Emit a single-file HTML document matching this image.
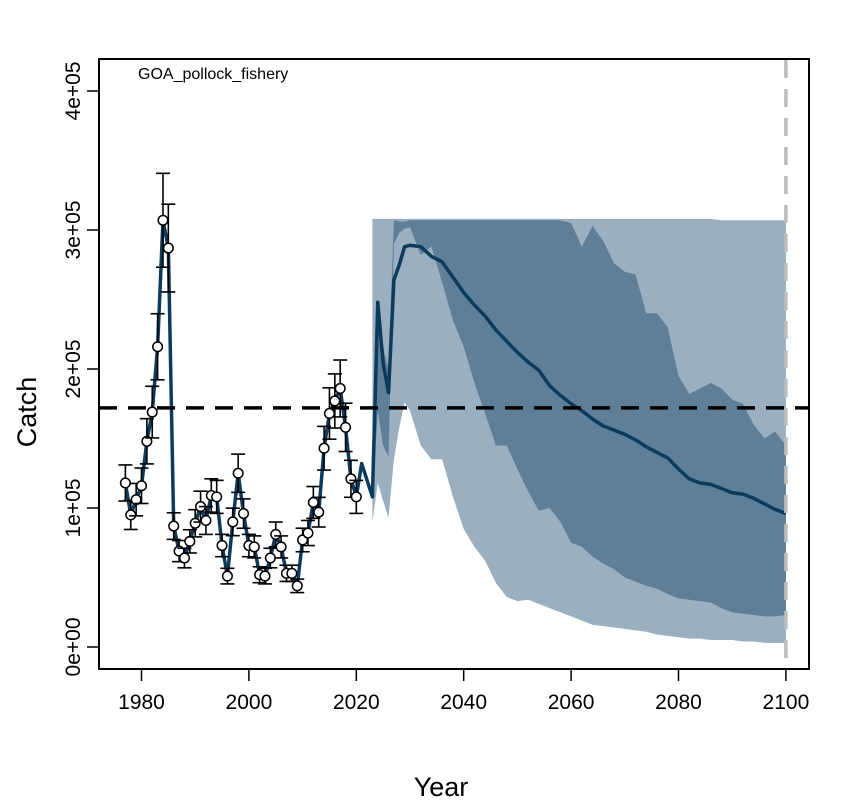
<!DOCTYPE html>
<html><head><meta charset="utf-8"><style>
html,body{margin:0;padding:0;background:#fff;}
svg{display:block;font-family:"Liberation Sans",Arial,sans-serif;}
</style></head><body>
<svg id="chart" width="860" height="800" viewBox="0 0 860 800" xmlns="http://www.w3.org/2000/svg">
<g id="bands"></g>
<g id="marks"></g>
<rect x="99" y="59" width="710" height="610" fill="none" stroke="#000" stroke-width="2"/>
<g id="axes"></g>
<text x="138" y="79" font-size="16">GOA_pollock_fishery</text>
<text x="441" y="796" font-size="27" text-anchor="middle">Year</text>
<text transform="translate(36,412) rotate(-90)" font-size="27" text-anchor="middle">Catch</text>
</svg>
<script>
const obsYears=[1977,1978,1979,1980,1981,1982,1983,1984,1985,1986,1987,1988,1989,1990,1991,1992,1993,1994,1995,1996,1997,1998,1999,2000,2001,2002,2003,2004,2005,2006,2007,2008,2009,2010,2011,2012,2013,2014,2015,2016,2017,2018,2019,2020];
const obsCatch=[118,95,106,116,148,169,216,307,287,87,69,64,76,89,101,91,109,108,73,51,90,125,96,73,72,52,51,64,81,72,53,53,44,77,82,104,97,143,168,177,186,158,121,108];
const projYears=[2020,2021,2022,2023,2024,2025,2026,2027,2028,2029,2030,2032,2034,2036,2038,2040,2042,2044,2046,2048,2050,2052,2054,2056,2058,2060,2062,2064,2066,2068,2070,2072,2074,2076,2078,2080,2082,2084,2086,2088,2090,2092,2094,2096,2098,2100];
const projMedian=[108,132,120,108,248,204,183,264,275,288,289,288,281,277,266,255,246,238,228,220,212,205,199,188,181,175,170,164,159,156,153,149,144,140,136,128,121,118,117,114,111,110,107,103,99,96];
const bandYears=[2023,2024,2025,2026,2027,2028,2029,2030,2032,2034,2036,2038,2040,2042,2044,2046,2048,2050,2052,2054,2056,2058,2060,2062,2064,2066,2068,2070,2072,2074,2076,2078,2080,2082,2084,2086,2088,2090,2092,2094,2096,2098,2100];
const outerHi=[308,308,308,308,308,308,308,308,308,308,308,308,308,308,308,308,308,308,308,308,308,308,308,308,308,308,308,308,308,308,308,308,308,308,308,308,307,307,307,307,307,307,307];
const outerLo=[90,118,105,93,135,158,176,170,145,135,135,108,85,72,62,46,36,33,34,31,28,25,22,19,16,15,14,13,12,11,9,8,7,6,6,5,5,5,4,4,3,3,3];
const innerHi=[110,240,215,200,307,306,306,307,307,307,307,307,307,307,307,307,307,307,307,307,307,307,305,288,303,292,276,270,268,240,240,230,195,182,186,190,186,178,175,160,150,155,145];
const innerLo=[105,170,145,137,290,298,301,302,282,288,262,235,216,190,168,145,145,128,112,98,100,90,75,72,65,60,56,50,47,44,42,38,35,34,33,32,28,25,24,23,22,22,23];
const refCatch=172;
const xTicks=[1980,2000,2020,2040,2060,2080,2100];
const yTicks=[0,100,200,300,400];
const yTickLabels=["0e+00","1e+05","2e+05","3e+05","4e+05"];

const NS="http://www.w3.org/2000/svg";
function X(yr){return 141.5+(yr-1980)*5.37;}
function Y(v){return 647-v*1.39;}
function mk(tag,attrs,parent){const e=document.createElementNS(NS,tag);for(const k in attrs)e.setAttribute(k,attrs[k]);parent.appendChild(e);return e;}
const bands=document.getElementById('bands'),marks=document.getElementById('marks'),axes=document.getElementById('axes');

function bandPath(hi,lo){
  let d='';
  bandYears.forEach((y,i)=>{d+=(i?'L':'M')+X(y)+' '+Y(hi[i]);});
  for(let i=bandYears.length-1;i>=0;i--)d+='L'+X(bandYears[i])+' '+Y(lo[i]);
  return d+'Z';
}
const ob=mk('path',{d:bandPath(outerHi,outerLo),fill:'#9aafbf'},bands);


const ib=mk('path',{d:bandPath(innerHi,innerLo),fill:'#5f7f99'},bands);



let d='';
obsYears.forEach((y,i)=>{d+=(i?'L':'M')+X(y)+' '+Y(obsCatch[i]);});
projYears.forEach((y,i)=>{if(i>0)d+='L'+X(y)+' '+Y(projMedian[i]);});
const ln=mk('path',{d:d,fill:'none',stroke:'#0d3b5e','stroke-width':3.5,'stroke-linejoin':'round'},marks);



const rl=mk('line',{x1:99,x2:809,y1:Y(refCatch),y2:Y(refCatch),stroke:'#000','stroke-width':3.5,'stroke-dasharray':'18,11'},marks);


const vl=mk('line',{x1:X(2100),x2:X(2100),y1:60,y2:668,stroke:'#bbbbbb','stroke-width':3.5,'stroke-dasharray':'18,11'},marks);



obsYears.forEach((y,i)=>{
  const g=mk('g',{},marks);
  
  
  const v=obsCatch[i],x=X(y),hi=Y(v*1.11),lo=Y(v*0.89);
  mk('line',{x1:x,x2:x,y1:hi,y2:lo,stroke:'#000','stroke-width':1.6},g);
  mk('line',{x1:x-7,x2:x+7,y1:hi,y2:hi,stroke:'#000','stroke-width':1.6},g);
  mk('line',{x1:x-7,x2:x+7,y1:lo,y2:lo,stroke:'#000','stroke-width':1.6},g);
  mk('circle',{cx:x,cy:Y(v),r:4.8,fill:'#fff',stroke:'#000','stroke-width':1.5},g);
});

xTicks.forEach(t=>{
  const l=mk('line',{x1:X(t),x2:X(t),y1:669,y2:681,stroke:'#000','stroke-width':1.5},axes);
  
  
  const tx=mk('text',{x:X(t),y:709,'font-size':21,'text-anchor':'middle'},axes);
  tx.textContent=t;
  
  
});
yTicks.forEach((t,i)=>{
  const l=mk('line',{x1:87,x2:99,y1:Y(t),y2:Y(t),stroke:'#000','stroke-width':1.5},axes);
  
  
  const tx=mk('text',{transform:'translate(80,'+Y(t)+') rotate(-90)','font-size':21,'text-anchor':'middle'},axes);
  tx.textContent=yTickLabels[i];
  
  
});
</script>
</body></html>
